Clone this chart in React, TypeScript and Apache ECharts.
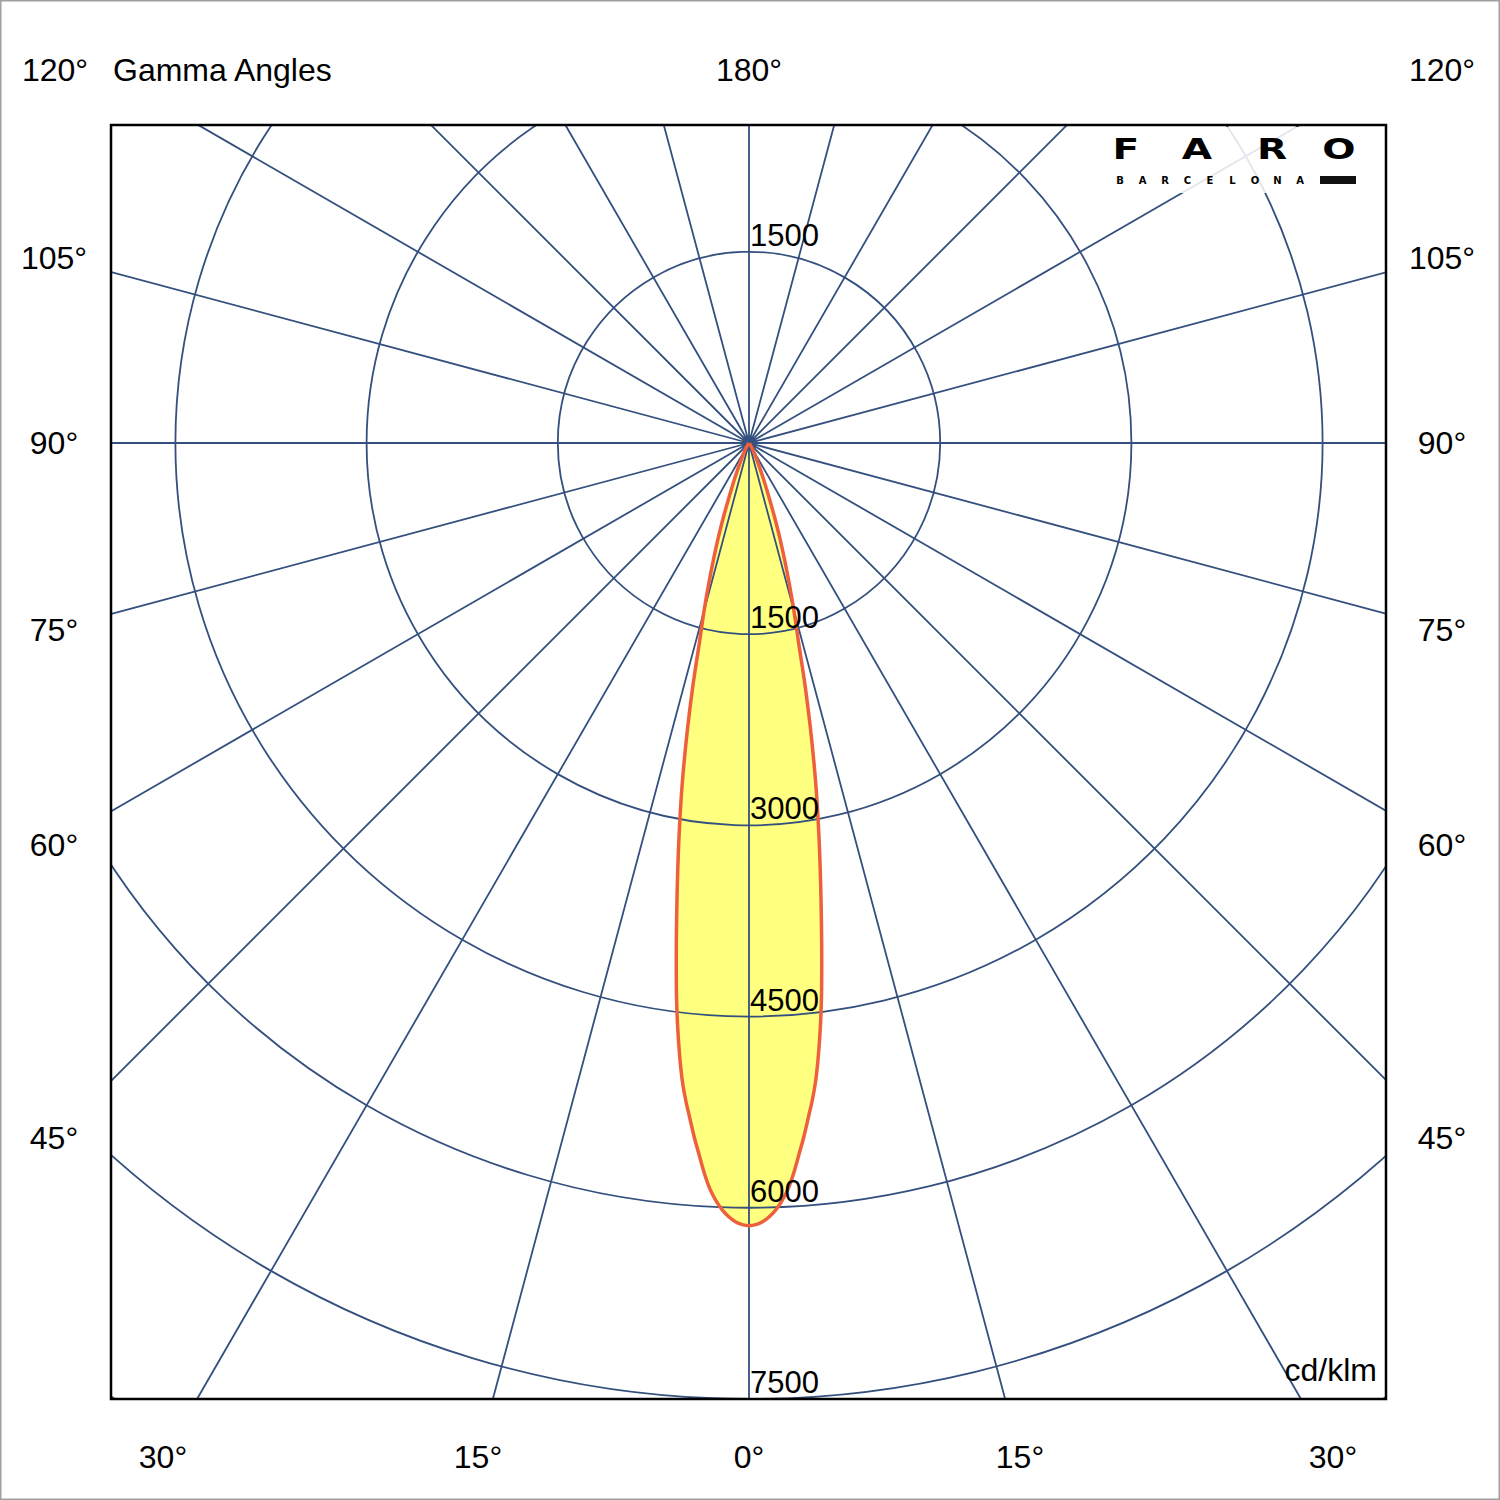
import React, { useEffect, useRef } from "react";
import * as echarts from "echarts";

// Gamma angles (degrees) and luminous intensity (cd/klm)
const gammaAngles = [0, 0.5, 1, 1.5, 2, 2.5, 3, 3.5, 4, 4.5, 5, 5.5, 6, 6.5, 7, 7.5, 8, 9, 10, 11, 12, 13, 14, 15, 16, 17, 18, 19, 20, 22, 25, 30, 35, 40, 45];
const intensityLeft = [6140, 6132, 6110, 6072, 6020, 5950, 5860, 5740, 5600, 5465, 5320, 5180, 5020, 4820, 4600, 4360, 4100, 3610, 3170, 2760, 2350, 1960, 1600, 1360, 1140, 950, 780, 620, 480, 300, 150, 60, 20, 5, 0];
const intensityRight = [6140, 6132, 6110, 6072, 6020, 5950, 5860, 5740, 5600, 5465, 5320, 5180, 5020, 4820, 4600, 4360, 4100, 3610, 3170, 2760, 2350, 1960, 1600, 1360, 1140, 950, 780, 620, 480, 300, 150, 60, 20, 5, 0];

const ringLabelValues = [1500, 3000, 4500, 6000, 7500];
const topRingLabelValue = 1500;
const radiusMax = 10500;
const radiusStep = 1500;
const angleStep = 15;

const sideAngleLabels = ["105°", "90°", "75°", "60°", "45°"];
const bottomAngleLabels = ["30°", "15°", "0°", "15°", "30°"];
const topLabels = ["120°", "180°", "120°"];
const titleText = "Gamma Angles";
const unitText = "cd/klm";
const logoLetters = ["F", "A", "R", "O"];
const logoSub = ["B", "A", "R", "C", "E", "L", "O", "N", "A"];

const FONT = "'Liberation Sans', Arial, sans-serif";
const GRID = "#34507e";

export default function App() {
  const ref = useRef<HTMLDivElement>(null);

  useEffect(() => {
    document.body.style.margin = "0";
    if (!ref.current) return;
    const chart = echarts.init(ref.current, undefined, { renderer: "svg" });

    const curve: number[][] = [];
    for (let i = gammaAngles.length - 1; i >= 0; i--) {
      curve.push([intensityLeft[i], gammaAngles[i]]);
    }
    for (let i = 1; i < gammaAngles.length; i++) {
      curve.push([intensityRight[i], 360 - gammaAngles[i]]);
    }

    const labelData = ringLabelValues.map((v) => [v, 0]).concat([[topRingLabelValue, 180]]);

    const txt = (text: string, x: number, y: number, align = "center", size = 32, extra: any = {}) => ({
      type: "text",
      z: 120,
      x,
      y,
      style: {
        text,
        fill: "#000",
        font: `${extra.weight || "normal"} ${size}px ${extra.family || FONT}`,
        textAlign: align,
        textVerticalAlign: "middle",
      },
      ...(extra.scaleX ? { scaleX: extra.scaleX } : {}),
    });

    const sideY = [258, 443, 630, 845, 1138];
    const bottomX = [163, 478, 749, 1020, 1333];
    const logoX = [1126, 1197, 1272, 1339];
    const graphics: any[] = [
      { type: "rect", z: 100, shape: { x: 0, y: 0, width: 1500, height: 124 }, style: { fill: "#fff" } },
      { type: "rect", z: 100, shape: { x: 0, y: 1400, width: 1500, height: 100 }, style: { fill: "#fff" } },
      { type: "rect", z: 100, shape: { x: 0, y: 0, width: 110, height: 1500 }, style: { fill: "#fff" } },
      { type: "rect", z: 100, shape: { x: 1387, y: 0, width: 113, height: 1500 }, style: { fill: "#fff" } },
      { type: "rect", z: 101, shape: { x: 111, y: 125, width: 1275, height: 1274 }, style: { fill: "none", stroke: "#000", lineWidth: 2.5 } },
      { type: "rect", z: 101, shape: { x: 0.75, y: 0.75, width: 1498.5, height: 1498.5 }, style: { fill: "none", stroke: "#a0a0a0", lineWidth: 1.5 } },
      { type: "rect", z: 102, shape: { x: 1104, y: 127, width: 262, height: 66 }, style: { fill: "rgba(255,255,255,0.85)" } },
      { type: "rect", z: 103, shape: { x: 1320, y: 176, width: 36, height: 8 }, style: { fill: "#111" } },
      txt(topLabels[0], 55, 70),
      txt(titleText, 113, 70, "left"),
      txt(topLabels[1], 749, 70),
      txt(topLabels[2], 1442, 70),
      txt(unitText, 1377, 1370, "right"),
    ];
    sideAngleLabels.forEach((t, i) => {
      graphics.push(txt(t, 54, sideY[i]));
      graphics.push(txt(t, 1442, sideY[i]));
    });
    bottomAngleLabels.forEach((t, i) => graphics.push(txt(t, bottomX[i], 1457)));
    logoLetters.forEach((t, i) => graphics.push(txt(t, logoX[i], 149, "center", 28, { weight: "900", family: "'DejaVu Sans', sans-serif", scaleX: 1.4 })));
    logoSub.forEach((t, i) => graphics.push(txt(t, 1120 + i * 22.5, 180, "center", 10, { weight: "bold", family: "'DejaVu Sans', sans-serif" })));

    chart.setOption({
      animation: false,
      backgroundColor: "#fff",
      polar: { center: [749, 443], radius: (radiusMax / 7500) * 956 },
      angleAxis: {
        type: "value",
        z: 3,
        min: 0,
        max: 360,
        interval: angleStep,
        startAngle: 270,
        clockwise: true,
        axisLine: { show: false },
        axisTick: { show: false },
        axisLabel: { show: false },
        splitLine: { show: true, lineStyle: { color: GRID, width: 1.8 } },
      },
      radiusAxis: {
        type: "value",
        z: 3,
        min: 0,
        max: radiusMax,
        interval: radiusStep,
        axisLine: { show: false },
        axisTick: { show: false },
        axisLabel: { show: false },
        splitLine: { show: true, lineStyle: { color: GRID, width: 1.8 } },
      },
      series: [
        {
          type: "line",
          name: "fill",
          coordinateSystem: "polar",
          data: curve,
          showSymbol: false,
          symbol: "none",
          smooth: 0.3,
          z: 1,
          lineStyle: { width: 0, opacity: 0 },
          areaStyle: { color: "#ffff80", opacity: 1 },
        },
        {
          type: "line",
          name: "outline",
          coordinateSystem: "polar",
          data: curve,
          showSymbol: false,
          symbol: "none",
          smooth: 0.3,
          z: 4,
          lineStyle: { color: "#ee5f3c", width: 3.5 },
        },
        {
          type: "scatter",
          coordinateSystem: "polar",
          data: labelData,
          symbol: "rect",
          symbolSize: 0.01,
          z: 6,
          itemStyle: { color: "#000", opacity: 1 },
          label: {
            show: true,
            position: [1, -32],
            align: "left",
            verticalAlign: "top",
            fontSize: 31,
            fontFamily: FONT,
            color: "#000",
            opacity: 1,
            textBorderWidth: 0,
            formatter: (p: any) => String(p.value[0]),
          },
        },
      ],
      graphic: graphics,
    });

    return () => chart.dispose();
  }, []);

  return <div ref={ref} style={{ width: 1500, height: 1500 }} />;
}
